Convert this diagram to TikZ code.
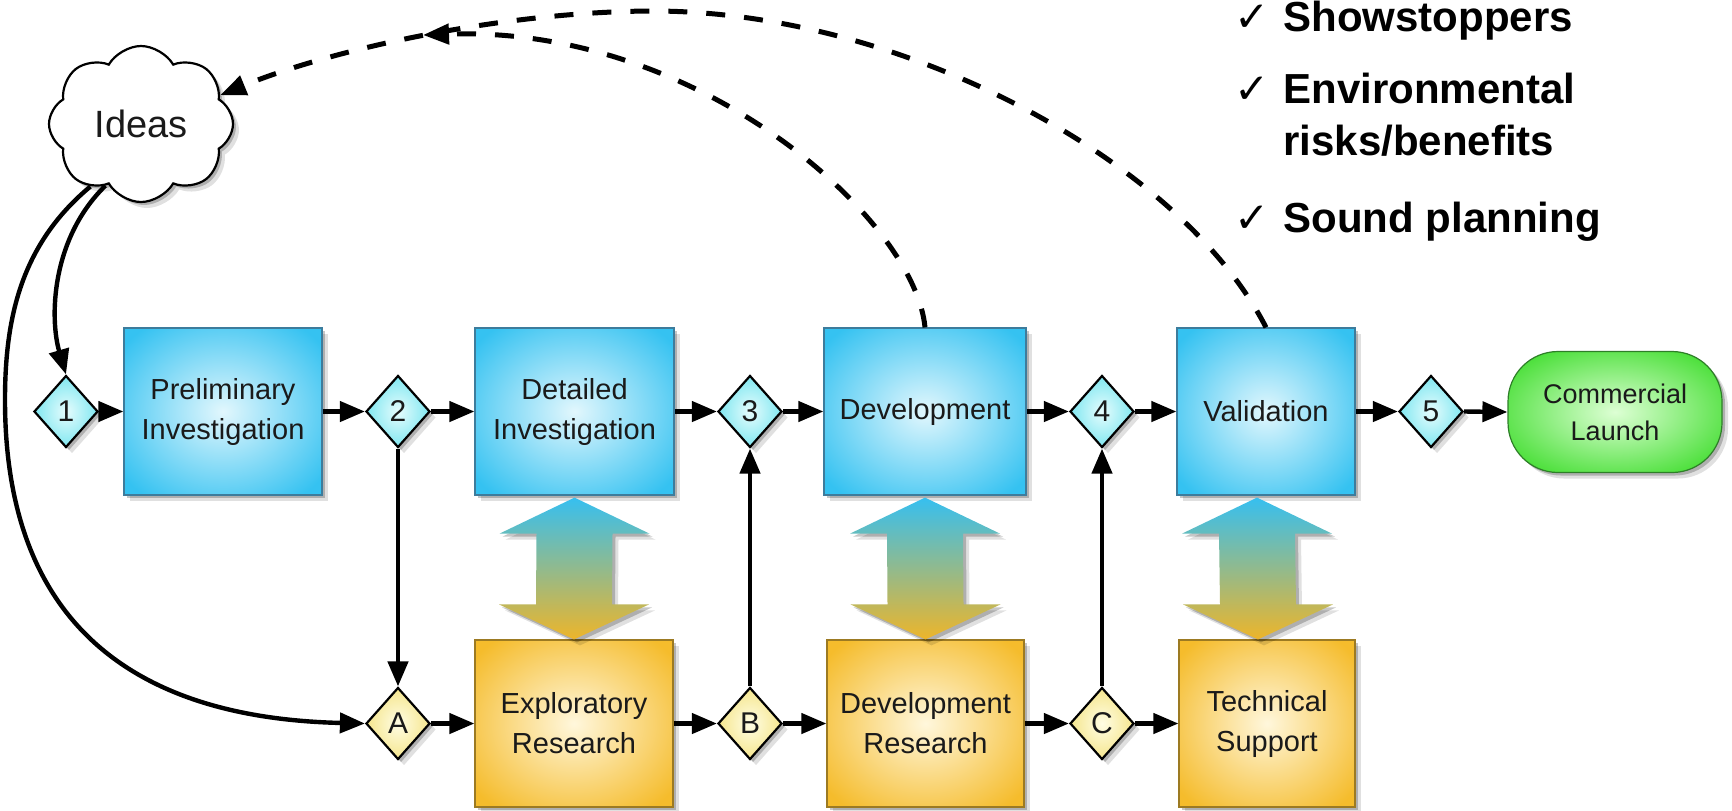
\documentclass[tikz,border=0pt]{standalone}
\usepackage{fontspec}
\setmainfont{Liberation Sans}
\newfontfamily\dejavu{DejaVu Sans}
\usetikzlibrary{arrows.meta,shapes.geometric,shapes.symbols,shadows,calc}

\definecolor{blueIn}{HTML}{E2F7FD}
\definecolor{blueOut}{HTML}{35C2F1}
\definecolor{blueLine}{HTML}{3D7C9C}
\definecolor{yelIn}{HTML}{FFF7DC}
\definecolor{yelOut}{HTML}{F5BC2C}
\definecolor{yelLine}{HTML}{9C7A22}
\definecolor{grnIn}{HTML}{DDFFD4}
\definecolor{grnOut}{HTML}{40DD2E}
\definecolor{grnLine}{HTML}{2E7F28}
\definecolor{cyIn}{HTML}{E6FCFD}
\definecolor{cyOut}{HTML}{6BE3EE}
\definecolor{ydIn}{HTML}{FFFDE4}
\definecolor{ydOut}{HTML}{F3E17C}
\definecolor{arTop}{HTML}{36BFF0}
\definecolor{arMid}{HTML}{86BF98}
\definecolor{arBot}{HTML}{EDB52A}
\definecolor{txt}{HTML}{1A1A1A}

\pgfdeclareradialshading{blueglow}{\pgfpoint{0bp}{0bp}}{color(0bp)=(blueIn); color(32bp)=(blueOut); color(50bp)=(blueOut)}
\pgfdeclareradialshading{yelglow}{\pgfpoint{0bp}{0bp}}{color(0bp)=(yelIn); color(32bp)=(yelOut); color(50bp)=(yelOut)}
\pgfdeclareradialshading{grnglow}{\pgfpoint{0bp}{0bp}}{color(0bp)=(grnIn); color(32bp)=(grnOut); color(50bp)=(grnOut)}
\pgfdeclareradialshading{cyglow}{\pgfpoint{0bp}{0bp}}{color(0bp)=(cyIn); color(30bp)=(cyOut); color(50bp)=(cyOut)}
\pgfdeclareradialshading{ydglow}{\pgfpoint{0bp}{0bp}}{color(0bp)=(ydIn); color(30bp)=(ydOut); color(50bp)=(ydOut)}

\newcommand{\boxfont}{\fontsize{14.5pt}{20pt}\selectfont}
\newcommand{\listfont}{\fontsize{21pt}{26pt}\selectfont\bfseries}

\newcommand{\dblarr}[3]{%
 \path[darrow] ($(#1.south)+(#3,2)$) -- ++(75,36) -- ++(-37,0)
   -- ($(#2.north)+(#3+38,-35)$) -- ++(37,0) -- ($(#2.north)+(#3,0)$)
   -- ++(-75,-35) -- ++(37,0) -- ($(#1.south)+(#3-38,38)$) -- ++(-37,0) -- cycle;}

\tikzset{
 softshadow/.style={drop shadow={shadow xshift=1.5pt,shadow yshift=-1.5pt,opacity=0.22,fill=black},
                    drop shadow={shadow xshift=3pt,shadow yshift=-3pt,opacity=0.12,fill=black}},
 bluebox/.style={rectangle, draw=blueLine, line width=0.6pt, shade, shading=blueglow, softshadow,
                 minimum height=83.5pt, inner sep=0pt, align=center, font=\boxfont, text=txt},
 yelbox/.style={rectangle, draw=yelLine, line width=0.6pt, shade, shading=yelglow, softshadow,
                 minimum height=83.5pt, inner sep=0pt, align=center, font=\boxfont, text=txt},
 launchbox/.style={rectangle, rounded corners=25pt, draw=grnLine, line width=0.6pt, shade, shading=grnglow,
                 softshadow, minimum width=107pt, minimum height=60.5pt, inner sep=0pt, align=center,
                 font=\fontsize{13.5pt}{18.5pt}\selectfont, text=txt},
 gate/.style={diamond, draw=black, line width=1.1pt, minimum width=32pt, minimum height=36pt,
              inner sep=0pt, font=\fontsize{15pt}{18pt}\selectfont, text=txt, softshadow},
 topgate/.style={gate, shade, shading=cyglow},
 botgate/.style={gate, shade, shading=ydglow},
 cloudnode/.style={cloud, draw=black, line width=1.1pt, fill=white, cloud puffs=8, cloud puff arc=120,
              aspect=1.2, minimum width=92pt, minimum height=78pt, inner sep=0pt, softshadow,
              font=\fontsize{19pt}{22pt}\selectfont, text=txt},
 conn/.style={line width=2.2pt, -{Triangle[length=12.5pt,width=10pt]}},
 dashconn/.style={line width=2.5pt, dash pattern=on 9.5pt off 9.5pt, -{Triangle[length=13pt,width=10pt]}},
 darrow/.style={shading=axis, top color=arTop, middle color=arMid, bottom color=arBot, softshadow},
 chk/.style={inner sep=0pt, font=\dejavu\fontsize{21pt}{22pt}\selectfont},
 listtxt/.style={inner sep=0pt, font=\listfont},
}

\begin{document}
\begin{tikzpicture}[x=0.5pt,y=-0.5pt]
\useasboundingbox (0,0) rectangle (1732,810);

% top row
\node[topgate] (d1) at (66,411.5) {1};
\node[bluebox, minimum width=99pt] (prelim) at (223,411.5) {Preliminary\\Investigation};
\node[topgate] (d2) at (398,411.5) {2};
\node[bluebox, minimum width=99.5pt] (detailed) at (574.5,411.5) {Detailed\\Investigation};
\node[topgate] (d3) at (750,411.5) {3};
\node[bluebox, minimum width=101pt] (dev) at (925,411.5) {Development};
\node[topgate] (d4) at (1102,411.5) {4};
\node[bluebox, minimum width=89pt] (val) at (1266,411.5) {Validation};
\node[topgate] (d5) at (1431,411.5) {5};
\node[launchbox] (cl) at (1615,412) {Commercial\\Launch};

% bottom row
\node[botgate] (dA) at (398,723.5) {A};
\node[yelbox, minimum width=99pt] (expl) at (574,723.5) {Exploratory\\Research};
\node[botgate] (dB) at (750,723.5) {B};
\node[yelbox, minimum width=98.5pt] (devres) at (925.5,723.5) {Development\\Research};
\node[botgate] (dC) at (1102,723.5) {C};
\node[yelbox, minimum width=88pt] (tech) at (1267,723.5) {Technical\\Support};

% ideas cloud
\node[cloudnode] (ideas) at (141,124) {Ideas};

% double arrows
\dblarr{detailed}{expl}{0}
\dblarr{dev}{devres}{0}
\dblarr{val}{tech}{-9}

% horizontal connectors
\draw[conn] (d1.east) -- (prelim.west);
\draw[conn] (prelim.east) -- (d2.west);
\draw[conn] (d2.east) -- (detailed.west);
\draw[conn] (detailed.east) -- (d3.west);
\draw[conn] (d3.east) -- (dev.west);
\draw[conn] (dev.east) -- (d4.west);
\draw[conn] (d4.east) -- (val.west);
\draw[conn] (val.east) -- (d5.west);
\draw[conn] (d5.east) -- (cl.west);
\draw[conn] (dA.east) -- (expl.west);
\draw[conn] (expl.east) -- (dB.west);
\draw[conn] (dB.east) -- (devres.west);
\draw[conn] (devres.east) -- (dC.west);
\draw[conn] (dC.east) -- (tech.west);

% vertical connectors
\draw[conn] (d2.south) -- (dA.north);
\draw[conn] (dB.north) -- (d3.south);
\draw[conn] (dC.north) -- (d4.south);

% curves from ideas
\draw[conn] (ideas.240) .. controls (50,240) and (50,320) .. (d1.north);
\draw[conn] (ideas.231) .. controls (20,245) and (5,320) .. (5,400)
   .. controls (5,620) and (130,718) .. (dA.west);

% dashed feedback curves
\coordinate (m1) at (423,35);
\draw[dashconn] (dev.north) .. controls (915,220) and (700,25) .. (m1);
\draw[dashconn] (val.north) .. controls (1180,160) and (900,10) .. (650,11)
   .. controls (500,12) and (330,50) .. (ideas.20);

% checklist
\node[chk, anchor=base west] (k1) at (1234,31) {✓};
\node[listtxt, anchor=base west] (l1) at (1283,31) {Showstoppers};
\node[chk, anchor=base west] (k2) at (1234,103) {✓};
\node[listtxt, anchor=base west] (l2) at (1283,103) {Environmental};
\node[listtxt, anchor=base west] (l2b) at (1283,155) {risks/benefits};
\node[chk, anchor=base west] (k3) at (1234,232) {✓};
\node[listtxt, anchor=base west] (l3) at (1283,232) {Sound planning};
\end{tikzpicture}
\end{document}
